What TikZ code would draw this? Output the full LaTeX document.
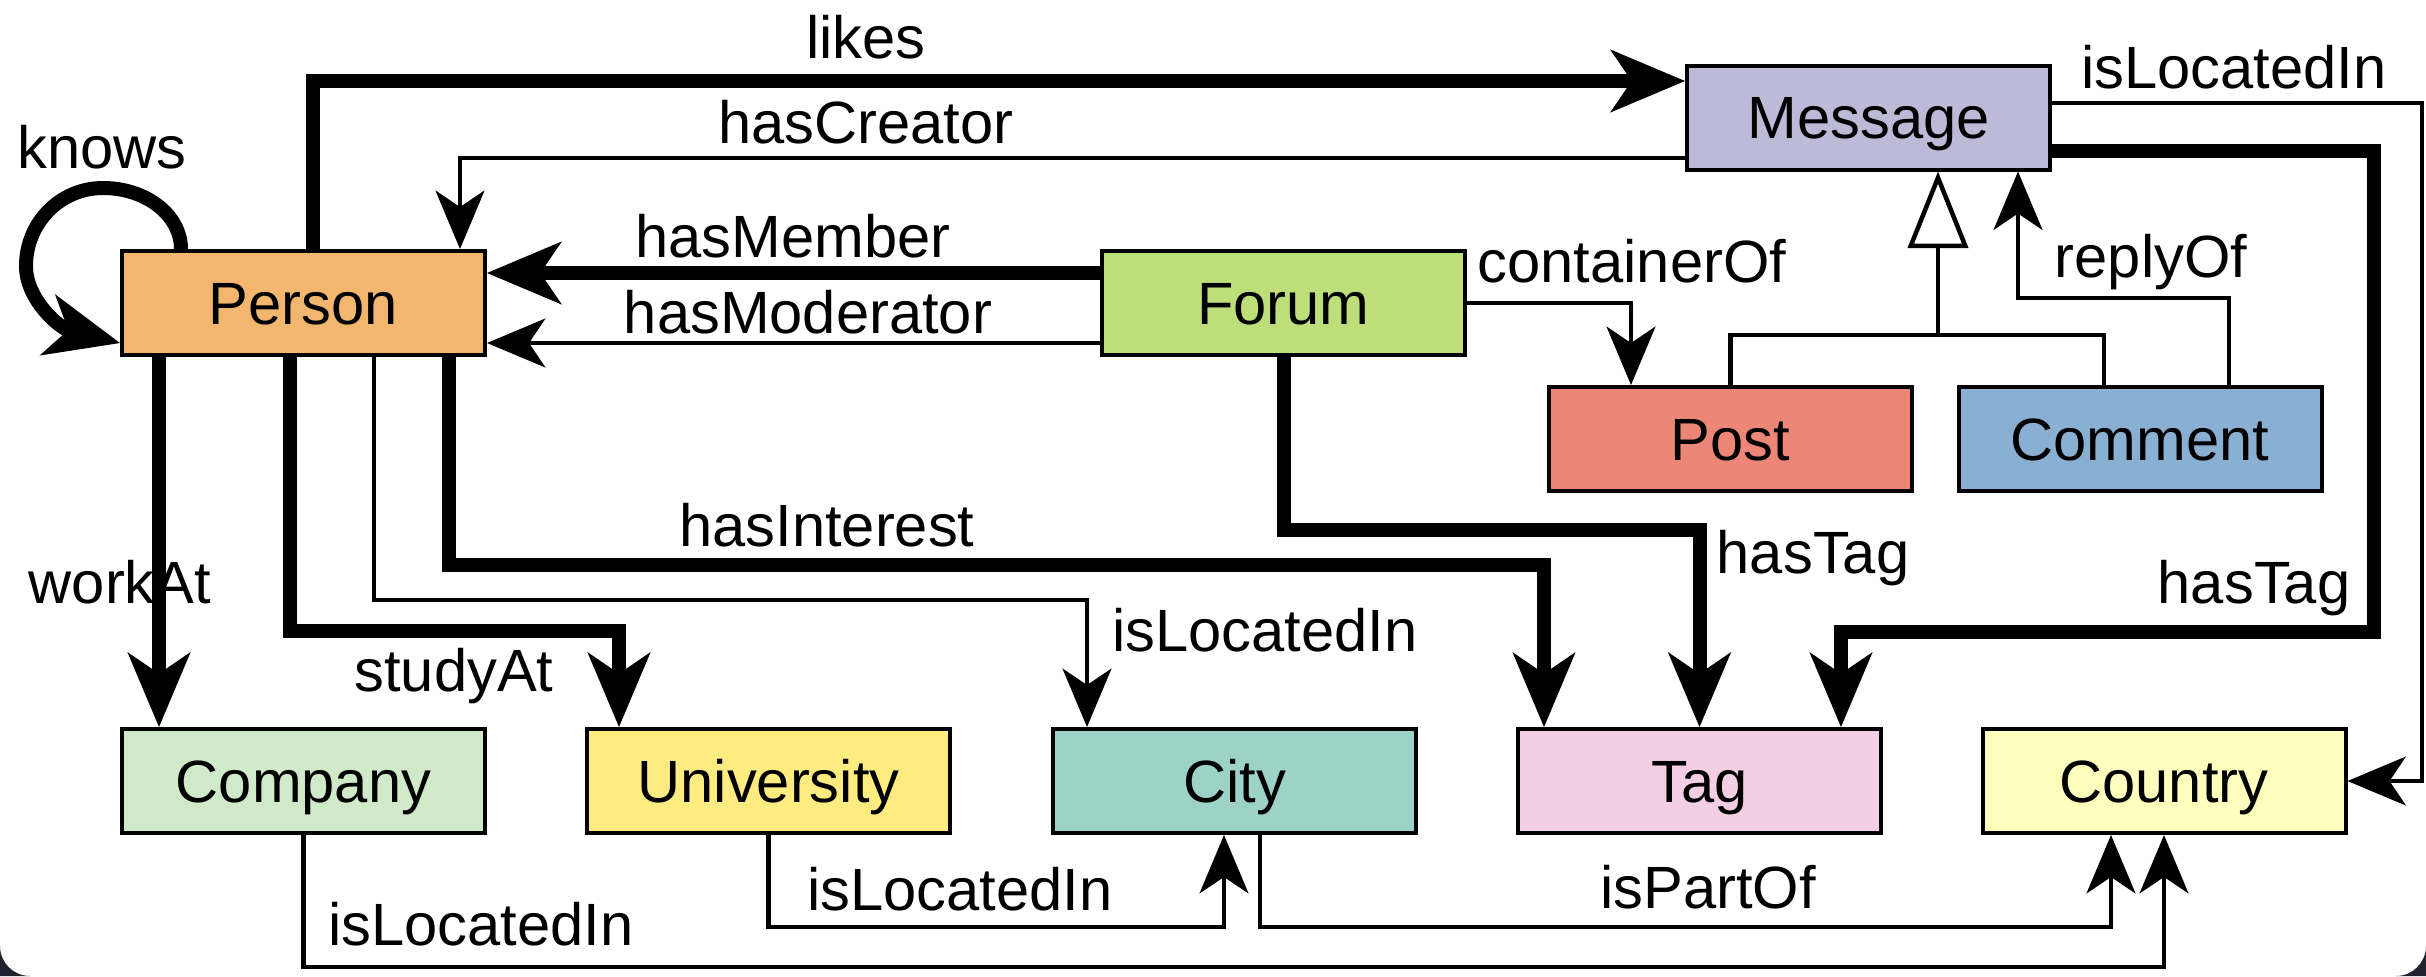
\documentclass[tikz,border=0pt]{standalone}
\usepackage{fontspec}
\setmainfont{Liberation Sans}
\usetikzlibrary{arrows.meta}
\definecolor{cperson}{HTML}{F2B66F}
\definecolor{cforum}{HTML}{BEDE7A}
\definecolor{cmessage}{HTML}{BDBAD8}
\definecolor{cpost}{HTML}{EC8777}
\definecolor{ccomment}{HTML}{89B0D2}
\definecolor{ccompany}{HTML}{D0EAC9}
\definecolor{cuniv}{HTML}{FFEC80}
\definecolor{ccity}{HTML}{9DD2C8}
\definecolor{ctag}{HTML}{F4CEE4}
\definecolor{ccountry}{HTML}{FFFFBD}
\definecolor{cframe}{RGB}{30,35,45}
\begin{document}
\begin{tikzpicture}[x=0.3pt,y=-0.3pt,
  txt/.style={font=\fontsize{17.9pt}{21pt}\selectfont},
  box/.style={txt, draw=black, line width=1.2pt, minimum width=108.9pt, minimum height=31.2pt,
    inner sep=0pt, text height=12.8pt, text depth=0pt},
  lbl/.style={txt, inner sep=0pt, anchor=base},
  thk/.style={line width=4.2pt},
  thn/.style={line width=1.35pt},
  arrk/.tip={Stealth[length=22.5pt,width=19pt,inset=6.5pt,line width=0pt]},
  arrn/.tip={Stealth[length=17.6pt,width=14.8pt,inset=5pt,line width=0pt]},
  gentri/.tip={Triangle[length=23pt,width=18pt,fill=white]}
]
\useasboundingbox (0,0) rectangle (2426,976);
\fill[white] (0,0) rectangle (2426,976);
% dark frame corners
\fill[cframe] (0,976) -- (30,976) .. controls (13.4,976) and (0,962.6) .. (0,946) -- cycle;
\fill[cframe] (2426,976) -- (2396,976) .. controls (2412.6,976) and (2426,962.6) .. (2426,946) -- cycle;

% nodes
\node[box, fill=cperson]  (person)  at (303.5,303) {Person};
\node[box, fill=cforum]   (forum)   at (1283.5,303) {Forum};
\node[box, fill=cmessage] (message) at (1868.5,117.5) {Message};
\node[box, fill=cpost]    (post)    at (1730.5,439) {Post};
\node[box, fill=ccomment] (comment) at (2140,439) {Comment};
\node[box, fill=ccompany] (company) at (303.5,781) {Company};
\node[box, fill=cuniv]    (university) at (768.5,781) {University};
\node[box, fill=ccity]    (city)    at (1234.5,781) {City};
\node[box, fill=ctag]     (tag)     at (1699.5,781) {Tag};
\node[box, fill=ccountry] (country) at (2164,781) {Country};

% connectors
\draw[thk,-{arrk}] (person.north -| 181,0) .. controls (181,215) and (146,188) .. (103,188)
   .. controls (60,188) and (26,223) .. (26,266)
   .. controls (26,300) and (60,328) .. (person.west |- 0,343);
\draw[thk,-{arrk}] (person.north -| 313,0) |- (message.west |- 0,81);
\draw[thn,-{arrn}] (message.west |- 0,158) -| (person.north -| 460,0);
\draw[thk,-{arrk}] (forum.west |- 0,273) -- (person.east |- 0,273);
\draw[thn,-{arrn}] (forum.west |- 0,343) -- (person.east |- 0,343);
\draw[thn,-{arrn}] (forum.east) -| (post.north -| 1631,0);
\coordinate (gj) at (1938,335);
\draw[thn] (post.north) |- (gj) -| (comment.north -| 2104,0);
\draw[thn,-{gentri}] (gj) -- (message.south -| gj);
\draw[thn,-{arrn}] (comment.north -| 2229,0) -- (2229,298) -| (message.south -| 2018,0);
\draw[thn,-{arrn}] (message.east |- 0,103) -| (2422,781) -- (country.east);
\draw[thk,-{arrk}] (message.east |- 0,151) -| (2374,632) -| (tag.north -| 1841,0);
\draw[thk,-{arrk}] (forum.south) -- (forum.south |- 0,530) -| (tag.north);
\draw[thk,-{arrk}] (person.south -| 449,0) -- (449,565) -| (tag.north -| 1544,0);
\draw[thn,-{arrn}] (person.south -| 374,0) -- (374,600) -| (city.north -| 1087,0);
\draw[thk,-{arrk}] (person.south -| 290,0) -- (290,631) -| (university.north -| 619,0);
\draw[thk,-{arrk}] (person.south -| 159,0) -- (company.north -| 159,0);
\draw[thn,-{arrn}] (university.south) -- (university.south |- 0,927) -| (city.south -| 1224,0);
\draw[thn,-{arrn}] (city.south -| 1260,0) -- (1260,927) -| (country.south -| 2111,0);
\draw[thn,-{arrn}] (company.south) -- (company.south |- 0,967) -| (country.south);

% labels
\node[lbl] (lknows) at (102,168) {knows};
\node[lbl] (llikes) at (866,58) {likes};
\node[lbl] (lcreator) at (866,143) {hasCreator};
\node[lbl] (lmember) at (793,257) {hasMember};
\node[lbl] (lmoderator) at (808,333) {hasModerator};
\node[lbl] (lcontainer) at (1632,282) {containerOf};
\node[lbl] (lreply) at (2151,277) {replyOf};
\node[lbl] (lmsgloc) at (2234,88) {isLocatedIn};
\node[lbl] (lftag) at (1813,573) {hasTag};
\node[lbl] (lmtag) at (2254,603) {hasTag};
\node[lbl] (linterest) at (827,546) {hasInterest};
\node[lbl] (lwork) at (120,603) {workAt};
\node[lbl] (lstudy) at (454,691) {studyAt};
\node[lbl] (lploc) at (1265,651) {isLocatedIn};
\node[lbl] (luloc) at (960,910) {isLocatedIn};
\node[lbl] (lpart) at (1708,908) {isPartOf};
\node[lbl] (lcloc) at (481,945) {isLocatedIn};
\end{tikzpicture}
\end{document}
